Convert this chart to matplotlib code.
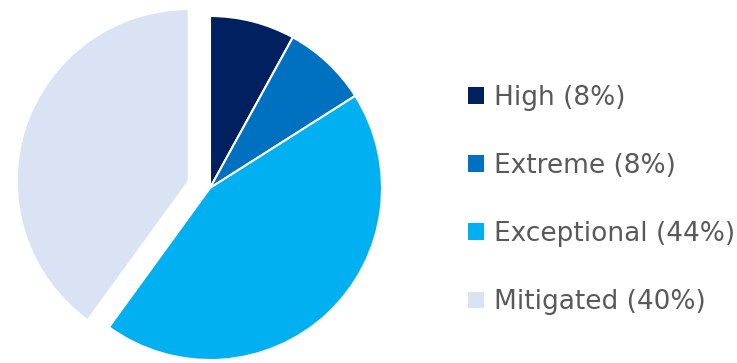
import matplotlib
matplotlib.use('Agg')
import matplotlib.pyplot as plt

labels = ['High', 'Extreme', 'Exceptional', 'Mitigated']
shares = [8, 8, 44, 40]
colors = ['#002060', '#0070C0', '#00B0F0', '#DAE3F3']
explode = [0, 0, 0, 0.13]

plt.rcParams['font.family'] = ['DejaVu Sans']

fig = plt.figure(figsize=(7.37, 3.63), dpi=100)
# pie centred at about (210, 188) px, radius 172 px
r_px = 172
ax = fig.add_axes([(210 - r_px) / 737, (363 - 188 - r_px) / 363, 2 * r_px / 737, 2 * r_px / 363])

wedges, _ = ax.pie(shares, colors=colors, explode=explode, startangle=90, counterclock=False,
                   radius=1, wedgeprops=dict(edgecolor='white', linewidth=1.5, clip_on=False))
ax.set_xlim(-1, 1)
ax.set_ylim(-1, 1)
ax.set_aspect('equal')
ax.axis('off')

legend_labels = [f'{l} ({v}%)' for l, v in zip(labels, shares)]
leg = fig.legend(wedges, legend_labels, loc='center left', bbox_to_anchor=(468 / 737, (363 - 200) / 363),
                 frameon=False, fontsize=19, handlelength=0.6, handleheight=0.6, handletextpad=0.38,
                 labelspacing=1.6, borderpad=0, borderaxespad=0)
for t in leg.get_texts():
    t.set_color('#595959')
for h in leg.legend_handles:
    h.set_edgecolor('none')

fig.savefig('out.png', dpi=100)
